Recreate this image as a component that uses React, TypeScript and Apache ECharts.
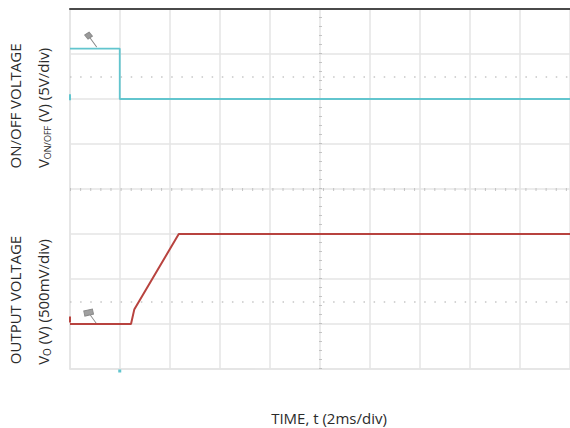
import React, { useEffect, useRef } from "react";
import * as echarts from "echarts";

// ---- data (time in ms, volts) ----
const ch1Time = [0, 1.99, 1.99, 20];
const ch1Volt = [5.6, 5.6, 0, 0];
const ch2Time = [0, 2.44, 2.57, 4.35, 20];
const ch2Volt = [0, 0, 0.16, 1.0, 1.0];

// axis scales (per div)
const timeRange = [0, 20];
const timeStep = 2;
const ch1Range = [-30, 10];
const ch1Step = 5;
const ch2Range = [-0.5, 3.5];
const ch2Step = 0.5;

// reference marker positions (data units)
const ch1Flag = [0.83, 6.6];
const ch2Flag = [0.81, 0.083];
const ch1Ground = [0, 0.2];
const ch2Ground = [0, 0.05];
const trigger = [1.99, -30];
const centerTime = 10;
const centerCh1 = -10;
const dotCh1 = 2.5;
const dotCh2 = 0.25;

const TEXT = "#2b2b2b";
const FONT = "Open Sans";
const CYAN = "#62c5ce";
const RED = "#b8433f";
const GRIDC = "#e4e4e4";

const flagPath = "path://M1,3 L5,0 L8,4 L4,7 Z M6,6 L12,15";

export default function App() {
  const ref = useRef<HTMLDivElement>(null);
  useEffect(() => {
    const chart = echarts.init(ref.current!, undefined, { renderer: "svg" });
    const pairs = (xs: number[], ys: number[]) => xs.map((x, i) => [x, ys[i]]);
    const hidden = { show: false };
    chart.setOption({
      animation: false,
      grid: { left: 70, right: -6, top: 9, bottom: 59 },
      xAxis: [
        {
          type: "value",
          min: timeRange[0],
          max: timeRange[1],
          interval: timeStep,
          position: "bottom",
          axisLine: { show: true, onZero: false, lineStyle: { color: GRIDC, width: 1.5 } },
          axisTick: hidden,
          axisLabel: hidden,
          splitLine: { show: true, lineStyle: { color: GRIDC, width: 1.5 } },
        },
        {
          type: "value",
          min: timeRange[0],
          max: timeRange[1],
          position: "top",
          axisLine: { show: true, onZero: false, lineStyle: { color: "#4a4a4a", width: 2 } },
          axisTick: hidden,
          axisLabel: hidden,
          splitLine: hidden,
        },
      ],
      yAxis: [
        {
          type: "value",
          min: ch1Range[0],
          max: ch1Range[1],
          interval: ch1Step,
          position: "left",
          axisLine: { show: true, onZero: false, lineStyle: { color: GRIDC, width: 1.5 } },
          axisTick: hidden,
          axisLabel: hidden,
          splitLine: { show: true, lineStyle: { color: GRIDC, width: 1.5 } },
        },
        {
          type: "value",
          min: ch2Range[0],
          max: ch2Range[1],
          interval: ch2Step,
          position: "right",
          axisLine: { show: false, onZero: false },
          axisTick: hidden,
          axisLabel: hidden,
          splitLine: hidden,
        },
      ],
      graphic: [
        {
          type: "text",
          x: 15,
          y: 106,
          rotation: Math.PI / 2,
          style: { text: "ON/OFF VOLTAGE", fontSize: 15, fontFamily: FONT, fill: TEXT, align: "center", verticalAlign: "middle" },
        },
        {
          type: "text",
          x: 43,
          y: 108,
          rotation: Math.PI / 2,
          style: {
            text: "{m|V}{s|ON/OFF}{m| (V) (5V/div)}",
            align: "center",
            verticalAlign: "middle",
            rich: {
              m: { fontSize: 15, fontFamily: FONT, fill: TEXT, lineHeight: 18 },
              s: { fontSize: 9, fontFamily: FONT, fill: TEXT, lineHeight: 12, verticalAlign: "bottom" },
            },
          },
        },
        {
          type: "text",
          x: 15,
          y: 300,
          rotation: Math.PI / 2,
          style: { text: "OUTPUT VOLTAGE", fontSize: 15, fontFamily: FONT, fill: TEXT, align: "center", verticalAlign: "middle" },
        },
        {
          type: "text",
          x: 43,
          y: 302,
          rotation: Math.PI / 2,
          style: {
            text: "{m|V}{s|O}{m| (V) (500mV/div)}",
            align: "center",
            verticalAlign: "middle",
            rich: {
              m: { fontSize: 15, fontFamily: FONT, fill: TEXT, lineHeight: 18 },
              s: { fontSize: 10, fontFamily: FONT, fill: TEXT, lineHeight: 12, verticalAlign: "bottom" },
            },
          },
        },
        {
          type: "text",
          x: 329,
          y: 418,
          style: { text: "TIME, t (2ms/div)", fontSize: 15, fontFamily: FONT, fill: TEXT, align: "center", verticalAlign: "middle" },
        },
      ],
      series: [
        {
          type: "line",
          xAxisIndex: 0,
          yAxisIndex: 0,
          data: pairs(ch1Time, ch1Volt),
          showSymbol: false,
          lineStyle: { color: CYAN, width: 1.8 },
          z: 5,
          markLine: {
            silent: true,
            symbol: ["none", "none"],
            label: { show: false },
            data: [
              { xAxis: centerTime, lineStyle: { color: "#b8b8b8", width: 3, type: [1, 8], opacity: 0.8 } },
              { yAxis: centerCh1, lineStyle: { color: "#b8b8b8", width: 3, type: [1, 9.12], opacity: 0.8 } },
              { yAxis: dotCh1, lineStyle: { color: "#c6c6c6", width: 1.5, type: [1.5, 8.62] } },
            ],
          },
          markPoint: {
            silent: true,
            label: { show: false },
            data: [
              {
                coord: ch1Flag,
                symbol: flagPath,
                symbolSize: [12, 15],
                itemStyle: { color: "#9a9a9a", borderColor: "#8a8a8a", borderWidth: 1 },
              },
              { coord: ch1Ground, symbol: "rect", symbolSize: [2, 6], itemStyle: { color: CYAN } },
              { coord: trigger, symbol: "rect", symbolSize: [3, 3], symbolOffset: [0, 2], itemStyle: { color: CYAN } },
            ],
          },
        },
        {
          type: "line",
          xAxisIndex: 0,
          yAxisIndex: 1,
          data: pairs(ch2Time, ch2Volt),
          showSymbol: false,
          lineStyle: { color: RED, width: 2 },
          z: 5,
          markLine: {
            silent: true,
            symbol: ["none", "none"],
            label: { show: false },
            data: [{ yAxis: dotCh2, lineStyle: { color: "#c6c6c6", width: 1.5, type: [1.5, 8.62] } }],
          },
          markPoint: {
            silent: true,
            label: { show: false },
            data: [
              {
                coord: ch2Flag,
                symbol: "path://M0,2 L8,0 L9,5 L1,7 Z M6,6 L12,15",
                symbolSize: [13, 15],
                itemStyle: { color: "#a0a0a0", borderColor: "#8a8a8a", borderWidth: 1 },
              },
              { coord: ch2Ground, symbol: "rect", symbolSize: [2, 6], itemStyle: { color: RED } },
            ],
          },
        },
      ],
    });
    return () => chart.dispose();
  }, []);
  return <div ref={ref} style={{ width: 570, height: 428, position: "absolute", left: 0, top: 0 }} />;
}
